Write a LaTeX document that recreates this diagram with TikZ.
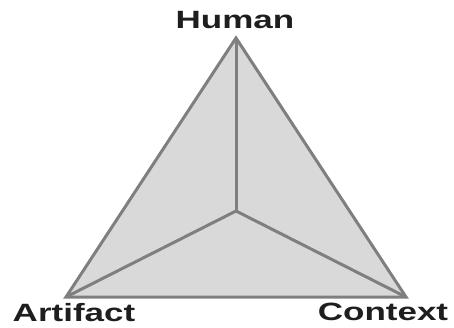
\documentclass[tikz,border=0pt]{standalone}
\usepackage{fontspec}
\usepackage{tikz}
\usetikzlibrary{positioning,calc}
\newfontfamily\etqfont[FakeStretch=1.4]{Liberation Sans}
\definecolor{cgris}{HTML}{7F7F7F}
\definecolor{crelleno}{HTML}{D9D9D9}
\definecolor{ctexto}{HTML}{1E1E1E}
\tikzset{
  cara/.style={draw=cgris, fill=crelleno, line width=3pt, line join=miter},
  arista/.style={draw=cgris, line width=3pt},
  etq/.style={inner sep=0pt, text=ctexto, font=\etqfont\bfseries\fontsize{25}{25}\selectfont},
}

\begin{document}
\begin{tikzpicture}[x=1pt, y=1pt]
  \useasboundingbox (0,0) rectangle (454,327);
  % vertices
  \coordinate (hum) at (236,289);
  \coordinate (art) at (66,30);
  \coordinate (ctx) at (406,30);
  \coordinate (cen) at (236,116);
  % faces
  \filldraw[cara] (hum) -- (art) -- (ctx) -- cycle;
  \draw[arista] (cen) -- (hum);
  \draw[arista] (cen) -- (art);
  \draw[arista] (cen) -- (ctx);
  % labels
  \node[etq, anchor=south, above=9pt of hum, xshift=-1pt] (lhum) {Human};
  \node[etq, anchor=north, below=6pt of art, xshift=8pt] (lart) {Artifact};
  \node[etq, anchor=north, below=6pt of ctx, xshift=-23pt] (lctx) {Context};
\end{tikzpicture}
\end{document}
